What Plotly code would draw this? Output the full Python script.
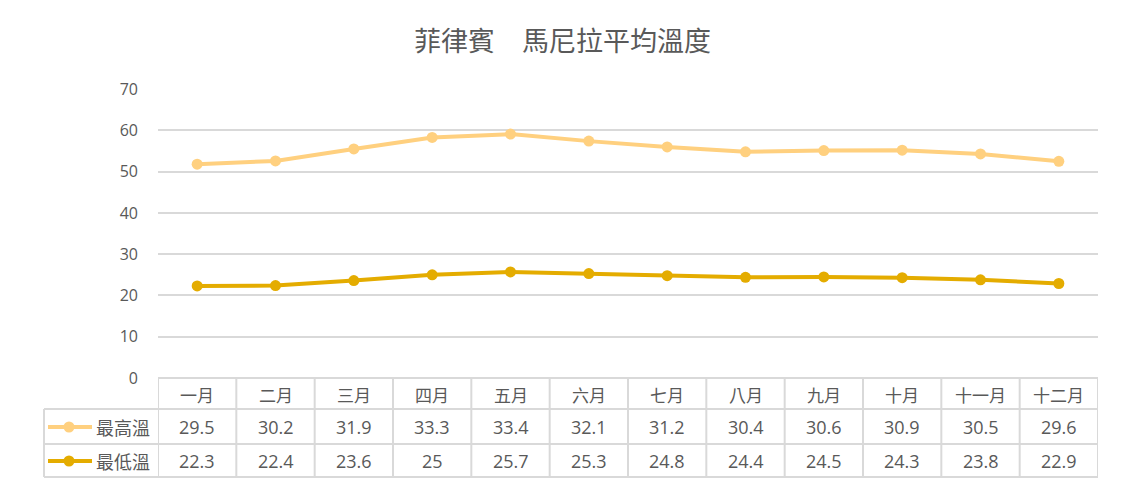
import plotly.graph_objects as go

months = ["一月", "二月", "三月", "四月", "五月", "六月", "七月", "八月", "九月", "十月", "十一月", "十二月"]
high = [29.5, 30.2, 31.9, 33.3, 33.4, 32.1, 31.2, 30.4, 30.6, 30.9, 30.5, 29.6]
low = [22.3, 22.4, 23.6, 25, 25.7, 25.3, 24.8, 24.4, 24.5, 24.3, 23.8, 22.9]
series_names = ["最高溫", "最低溫"]
title = "菲律賓\u3000馬尼拉平均溫度"

c_high = "#FFD07F"
c_low = "#E4AC00"
txt = "#595959"
grid = "#D9D9D9"
FONT = "Open Sans, Noto Sans CJK TC, sans-serif"
CJK = "Noto Sans CJK TC, sans-serif"

W, H = 1125, 488
L, R, T, B = 158, 27, 89, 110
ph = H - T - B
pw = W - L - R

def py(p):  # pixel y -> paper y
    return (H - B - p) / ph

def px(p):
    return (p - L) / pw

stacked_high = [round(a + b, 2) for a, b in zip(low, high)]
idx = list(range(len(months)))

fig = go.Figure()
fig.add_trace(go.Scatter(x=idx, y=low, mode="lines+markers", name=series_names[1],
                         line=dict(color=c_low, width=4), marker=dict(size=11, color=c_low),
                         showlegend=False))
fig.add_trace(go.Scatter(x=idx, y=stacked_high, mode="lines+markers", name=series_names[0],
                         line=dict(color=c_high, width=4), marker=dict(size=11, color=c_high),
                         showlegend=False))

shapes = []
annotations = []
row_tops = [378, 409, 444, 477]
line_style = dict(color=grid, width=2)
shapes.append(dict(type="line", xref="x", yref="paper", x0=-0.5, x1=len(months) - 0.5,
                   y0=py(378), y1=py(378), line=line_style))
for r in row_tops[1:]:
    shapes.append(dict(type="line", xref="paper", yref="paper", x0=px(44), x1=1,
                       y0=py(r), y1=py(r), line=line_style))
for i in range(len(months) + 1):
    shapes.append(dict(type="line", xref="x", yref="paper", x0=i - 0.5, x1=i - 0.5,
                       y0=py(378), y1=py(477), line=line_style))
shapes.append(dict(type="line", xref="paper", yref="paper", x0=px(44), x1=px(44),
                   y0=py(409), y1=py(477), line=line_style))

for i, m in enumerate(months):
    annotations.append(dict(x=i, y=py(394), xref="x", yref="paper", text=m, showarrow=False,
                            font=dict(size=17, color=txt, family=CJK), xanchor="center", yanchor="middle"))
    annotations.append(dict(x=i, y=py(427), xref="x", yref="paper", text=str(high[i]), showarrow=False,
                            font=dict(size=18, color=txt, family=FONT), xanchor="center", yanchor="middle"))
    annotations.append(dict(x=i, y=py(461), xref="x", yref="paper", text=str(low[i]), showarrow=False,
                            font=dict(size=18, color=txt, family=FONT), xanchor="center", yanchor="middle"))

for yc, col, name in [(427, c_high, series_names[0]), (461, c_low, series_names[1])]:
    shapes.append(dict(type="line", xref="paper", yref="paper", x0=px(48), x1=px(92),
                       y0=py(yc), y1=py(yc), line=dict(color=col, width=4)))
    shapes.append(dict(type="circle", xref="paper", yref="paper", x0=px(63.5), x1=px(74.5),
                       y0=py(yc - 5.5), y1=py(yc + 5.5), fillcolor=col, line=dict(color=col, width=0)))
    annotations.append(dict(x=px(94), y=py(yc), xref="paper", yref="paper", text=name, showarrow=False,
                            font=dict(size=18, color=txt, family=CJK), xanchor="left", yanchor="middle"))

fig.update_layout(
    width=W, height=H,
    margin=dict(l=L, r=R, t=T, b=B),
    paper_bgcolor="white", plot_bgcolor="white",
    title=dict(text=title, x=0.5, xref="container", xanchor="center", y=1 - 42 / H, yanchor="middle",
               font=dict(size=27, color=txt, family=CJK)),
    xaxis=dict(range=[-0.5, len(months) - 0.5], showticklabels=False, showgrid=False,
               zeroline=False, showline=False, ticks=""),
    yaxis=dict(range=[0, 70.03], dtick=10, showgrid=True, gridcolor=grid, gridwidth=2,
               zeroline=False, showline=False, ticks="", tickfont=dict(size=16, color=txt, family=FONT),
               ticklabelstandoff=19),
    shapes=shapes, annotations=annotations,
)
fig.write_html("out.html")
